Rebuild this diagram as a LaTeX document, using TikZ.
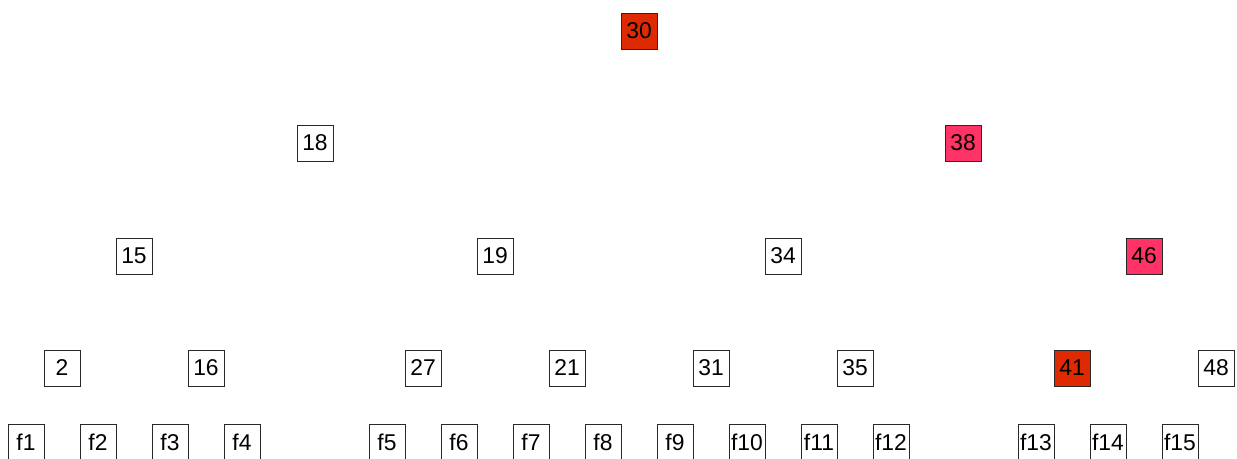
\documentclass[tikz,border=0pt]{standalone}
\usepackage{fontspec}
\setmainfont{Liberation Sans}
\usepackage{tikz}
\definecolor{heapred}{RGB}{221, 42, 0}
\definecolor{heappink}{RGB}{255, 51, 102}
\definecolor{heapborder}{RGB}{40, 40, 40}

\begin{document}
\begin{tikzpicture}[
    x=0.02cm, y=-0.02cm,
    font=\fontsize{13}{15}\selectfont,
    key/.style={draw=heapborder, line width=0.5pt, fill=white, minimum width=0.72cm, minimum height=0.72cm, inner sep=1pt},
    hotkey/.style={key, fill=heapred},
    warmkey/.style={key, fill=heappink}
]
\useasboundingbox (0,0) rectangle (1237,458);

% Level 0
\node[hotkey] (k30) at (639,31) {30};

% Level 1
\node[key] (k18) at (315,143) {18};
\node[warmkey] (k38) at (963,143) {38};

% Level 2
\node[key] (k15) at (134,256) {15};
\node[key] (k19) at (495,256) {19};
\node[key] (k34) at (783,256) {34};
\node[warmkey] (k46) at (1144,256) {46};

% Level 3
\node[key] (k2) at (62,368) {2};
\node[key] (k16) at (206,368) {16};
\node[key] (k27) at (423,368) {27};
\node[key] (k21) at (567,368) {21};
\node[key] (k31) at (711,368) {31};
\node[key] (k35) at (855,368) {35};
\node[hotkey] (k41) at (1072,368) {41};
\node[key] (k48) at (1216,368) {48};

% Leaves
\node[key] (f1) at (26,442) {f1};
\node[key] (f2) at (98,442) {f2};
\node[key] (f3) at (170,442) {f3};
\node[key] (f4) at (242,442) {f4};
\node[key] (f5) at (387,442) {f5};
\node[key] (f6) at (459,442) {f6};
\node[key] (f7) at (531,442) {f7};
\node[key] (f8) at (603,442) {f8};
\node[key] (f9) at (675,442) {f9};
\node[key] (f10) at (747,442) {f10};
\node[key] (f11) at (819,442) {f11};
\node[key] (f12) at (891,442) {f12};
\node[key] (f13) at (1036,442) {f13};
\node[key] (f14) at (1108,442) {f14};
\node[key] (f15) at (1180,442) {f15};

\end{tikzpicture}
\end{document}
